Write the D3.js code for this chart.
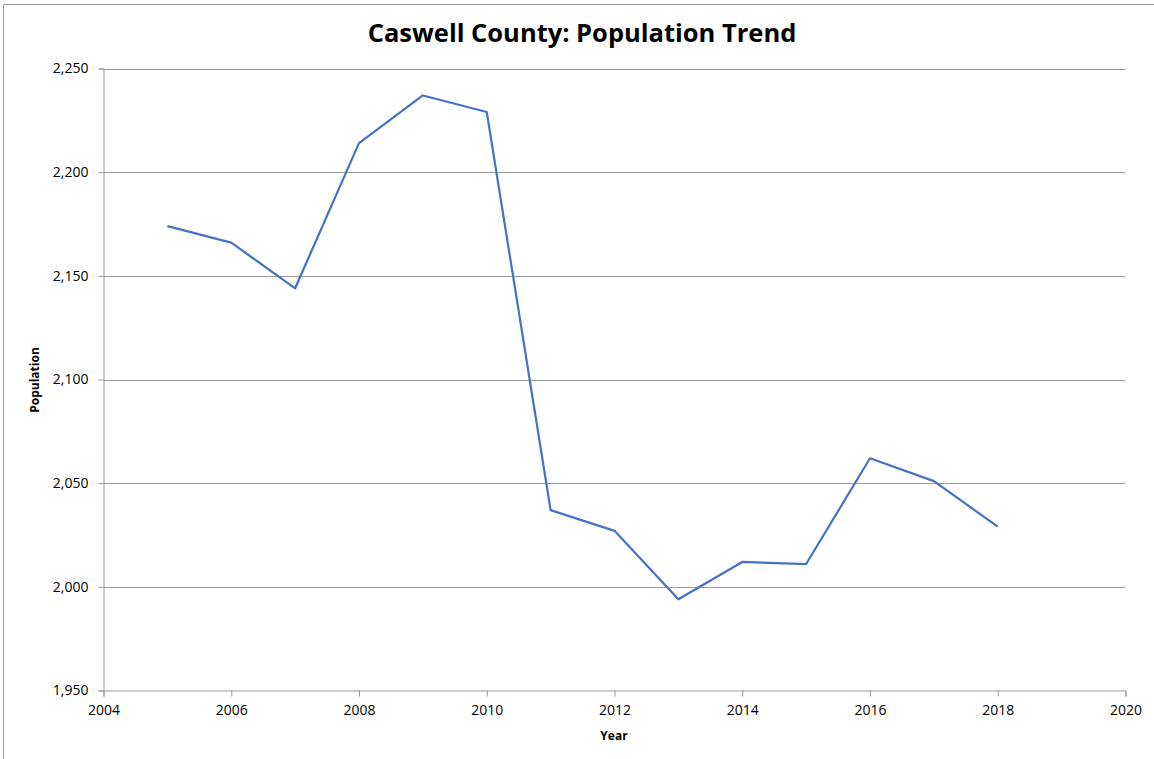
<!DOCTYPE html>
<html><head><meta charset="utf-8">
<script src="https://cdn.jsdelivr.net/npm/d3@7"></script>
<style>body{margin:0;background:#fff}svg{display:block}</style>
</head><body>
<svg id="c" width="1154" height="759"></svg>
<script>
const years = [2005,2006,2007,2008,2009,2010,2011,2012,2013,2014,2015,2016,2017,2018];
const population = [2174,2166,2144,2214,2237,2229,2037,2027,1994,2012,2011,2062,2051,2029];
const xTicks = [2004,2006,2008,2010,2012,2014,2016,2018,2020];
const yTicks = [1950,2000,2050,2100,2150,2200,2250];
const title = "Caswell County: Population Trend";

const svg = d3.select("#c");
const font = "'Open Sans', 'Liberation Sans', sans-serif";
// outer frame
svg.append("path").attr("d","M3.5,759 V4.5 H1154").attr("fill","none").attr("stroke","#999").attr("stroke-width",1);

const L=103.5, R=1125.5, T=68.5, B=690.5;
const x = d3.scaleLinear().domain([2004,2020]).range([L,R]);
const y = d3.scaleLinear().domain([1950,2250]).range([B,T]);

// gridlines
svg.append("g").selectAll("line").data(yTicks.filter(d=>d>1950)).join("line")
  .attr("x1",L).attr("x2",R).attr("y1",d=>Math.round(y(d))+0.5).attr("y2",d=>Math.round(y(d))+0.5)
  .attr("stroke","#999").attr("stroke-width",1);

const yAxis = svg.append("g").attr("transform",`translate(${L},0)`)
  .call(d3.axisLeft(y).tickValues(yTicks).tickFormat(d3.format(",")).tickSize(5).tickPadding(10));
const xAxis = svg.append("g").attr("transform",`translate(0,${B})`)
  .call(d3.axisBottom(x).tickValues(xTicks).tickFormat(d3.format("d")).tickSize(6).tickPadding(9));
[yAxis,xAxis].forEach(a=>{
  a.selectAll("path,line").attr("stroke","#999");
  a.selectAll("text").attr("font-family",font).attr("font-size",14).attr("fill","#000");
});

const line = d3.line().x((d,i)=>x(years[i])).y(d=>y(d));
svg.append("path").datum(population).attr("d",line)
  .attr("fill","none").attr("stroke","#4472C4").attr("stroke-width",2.2).attr("stroke-linejoin","round");

svg.append("text").attr("x",582).attr("y",42).attr("text-anchor","middle")
  .attr("font-family",font).attr("font-weight","bold").attr("font-size",25.5).text(title);
svg.append("text").attr("x",614).attr("y",740).attr("text-anchor","middle")
  .attr("font-family",font).attr("font-weight","bold").attr("font-size",12).text("Year");
svg.append("text").attr("transform","translate(39,380) rotate(-90)").attr("text-anchor","middle")
  .attr("font-family",font).attr("font-weight","bold").attr("font-size",12).text("Population");
</script>
</body></html>
